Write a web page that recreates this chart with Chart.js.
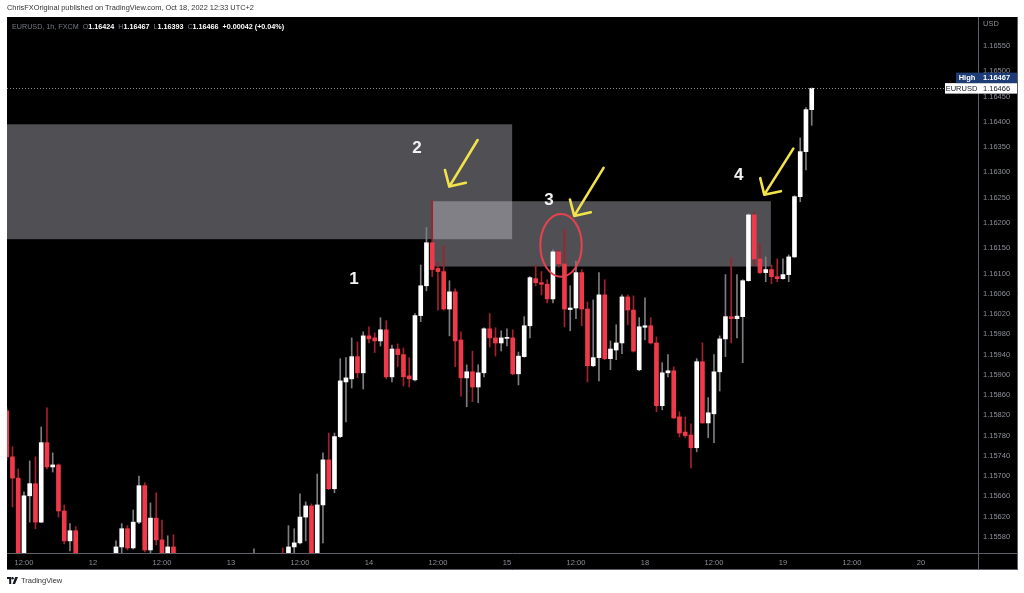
<!DOCTYPE html>
<html>
<head>
<meta charset="utf-8">
<title>EURUSD 1h</title>
<script src="https://cdn.jsdelivr.net/npm/chart.js@4.4.1/dist/chart.umd.min.js"></script>
<style>
  html, body { margin: 0; padding: 0; background: #ffffff; width: 1024px; height: 593px; overflow: hidden; }
  #wrap { position: relative; width: 1024px; height: 593px; font-family: "Liberation Sans", Arial, sans-serif; }
  #wrap canvas { position: absolute; left: 0; top: 0; }
  .pub { position: absolute; left: 7px; top: 3px; font-size: 7.4px; color: #333333; white-space: nowrap; z-index: 2; }
  .legend { position: absolute; left: 12px; top: 22px; font-size: 7.2px; color: #787b86; white-space: nowrap; z-index: 2; }
  .legend b { color: #ffffff; font-weight: bold; margin-right: 2px; }
  .foot { position: absolute; left: 7px; top: 576px; font-size: 7.5px; color: #333333; white-space: nowrap; z-index: 2; display: flex; align-items: center; }
  .foot svg { margin-right: 3px; }
</style>
</head>
<body>
<div id="wrap">
  <canvas id="c" width="1024" height="593"></canvas>
  <div class="pub">ChrisFXOriginal published on TradingView.com, Oct 18, 2022 12:33 UTC+2</div>
  <div class="legend">EURUSD, 1h, FXCM&nbsp; O<b>1.16424</b> H<b>1.16467</b> L<b>1.16393</b> C<b>1.16466</b> <b>+0.00042 (+0.04%)</b></div>
  <div class="foot">
    <svg width="11" height="7" viewBox="0 0 11 7"><path d="M0 0h4.2v7H2.2V2H0z" fill="#131722"/><circle cx="5.6" cy="1.2" r="1.2" fill="#131722"/><path d="M8.2 0h2.8L8 7H5.6z" fill="#131722"/></svg>TradingView
  </div>
</div>
<script>
// Hourly EURUSD bars, one slot per hour; null where the bar sits entirely below the visible range.
const opens = [
  1.15829,1.15738,1.15696,1.15542,1.15661,1.15685,1.15609,1.15766,1.15718,1.15722,
  1.15631,1.15572,1.15592,null,null,null,null,null,null,1.15542,
  1.15560,1.15596,1.15558,1.15609,1.15681,1.15554,1.15617,1.15574,1.15534,1.15560,
  null,null,null,null,null,null,null,null,null,null,
  null,null,null,1.15530,null,null,null,null,1.15540,1.15534,
  1.15560,1.15568,1.15619,1.15641,1.15542,1.15643,1.15732,1.15675,1.15778,1.15886,
  1.15892,1.15936,1.15904,1.15977,1.15973,1.15967,1.15989,1.15896,1.15951,1.15940,
  1.15898,1.15890,1.16017,1.16076,1.16161,1.16110,1.16104,1.16030,1.16064,1.15969,
  1.15894,1.15906,1.15876,1.15904,1.15991,1.15973,1.15963,1.15972,1.15973,1.15902,
  1.15936,1.15997,1.16090,1.16082,1.16079,1.16050,1.16143,1.16119,1.16029,1.16032,
  1.16102,1.16030,1.15918,1.15934,1.16058,1.15932,1.15949,1.15963,1.16054,1.16028,
  1.15910,1.15994,1.15997,1.15963,1.15839,1.15904,1.15908,1.15817,1.15787,1.15781,
  1.15756,1.15926,1.15805,1.15823,1.15906,1.15971,1.16015,1.16011,1.16015,1.16086,
  1.16216,1.16129,1.16102,1.16108,1.16094,1.16090,1.16098,1.16133,1.16252,1.16341,
  1.16424
];
const highs = [
  1.15835,1.15758,1.15714,1.15669,1.15730,1.15738,1.15797,1.15835,1.15746,1.15724,
  1.15643,1.15606,1.15600,null,null,null,null,null,null,1.15572,
  1.15606,1.15602,1.15633,1.15700,1.15687,1.15647,1.15667,1.15613,1.15582,1.15584,
  null,null,null,null,null,null,null,null,null,null,
  null,null,null,1.15556,null,null,null,null,1.15558,1.15602,
  1.15596,1.15665,1.15649,1.15645,1.15704,1.15746,1.15785,1.15785,1.15932,1.15934,
  1.15973,1.15965,1.15985,1.15995,1.15983,1.16013,1.16007,1.15959,1.15961,1.15953,
  1.15934,1.16021,1.16117,1.16191,1.16244,1.16123,1.16155,1.16086,1.16070,1.15985,
  1.15920,1.15947,1.15920,1.15993,1.16021,1.15993,1.15987,1.15991,1.15989,1.15945,
  1.16015,1.16094,1.16117,1.16104,1.16088,1.16147,1.16146,1.16187,1.16076,1.16125,
  1.16108,1.16044,1.16048,1.16102,1.16088,1.15967,1.15999,1.16058,1.16058,1.16056,
  1.16013,1.16052,1.16013,1.15975,1.15924,1.15940,1.15916,1.15827,1.15817,1.15803,
  1.15932,1.15963,1.15855,1.15940,1.15977,1.16098,1.16131,1.16098,1.16088,1.16218,
  1.16222,1.16161,1.16133,1.16117,1.16129,1.16129,1.16137,1.16254,1.16368,1.16428,
  1.16467
];
const lows = [
  1.15732,1.15639,1.15530,1.15532,1.15609,1.15596,1.15608,1.15714,1.15708,1.15619,
  1.15566,1.15552,1.15525,null,null,null,null,null,null,1.15538,
  1.15548,1.15554,1.15556,1.15606,1.15550,1.15548,1.15564,1.15534,1.15530,1.15530,
  null,null,null,null,null,null,null,null,null,null,
  null,null,null,1.15522,null,null,null,null,1.15522,1.15530,
  1.15544,1.15566,1.15572,1.15534,1.15538,1.15568,1.15673,1.15667,1.15776,1.15807,
  1.15874,1.15894,1.15872,1.15963,1.15944,1.15957,1.15892,1.15886,1.15916,1.15878,
  1.15876,1.15888,1.16005,1.16066,1.16094,1.16028,1.16028,1.15977,1.15916,1.15858,
  1.15837,1.15847,1.15845,1.15896,1.15955,1.15937,1.15947,1.15957,1.15900,1.15880,
  1.15935,1.15973,1.16076,1.16058,1.16042,1.16042,1.16113,1.15995,1.15987,1.16011,
  1.15997,1.15886,1.15916,1.15888,1.15930,1.15910,1.15930,1.15942,1.15999,1.15945,
  1.15908,1.15969,1.15961,1.15827,1.15831,1.15896,1.15813,1.15777,1.15776,1.15716,
  1.15748,1.15804,1.15776,1.15766,1.15868,1.15936,1.15963,1.15973,1.15924,1.16085,
  1.16117,1.16100,1.16084,1.16080,1.16084,1.16089,1.16084,1.16132,1.16242,1.16305,
  1.16393
];
const closes = [
  1.15738,1.15696,1.15542,1.15661,1.15685,1.15609,1.15766,1.15718,1.15722,1.15631,
  1.15572,1.15592,1.15534,null,null,null,null,null,null,1.15560,
  1.15596,1.15558,1.15609,1.15681,1.15554,1.15617,1.15574,1.15542,1.15560,1.15538,
  null,null,null,null,null,null,null,null,null,null,
  null,null,null,1.15540,null,null,null,null,1.15530,1.15560,
  1.15568,1.15619,1.15641,1.15542,1.15643,1.15732,1.15675,1.15778,1.15888,1.15894,
  1.15936,1.15904,1.15977,1.15971,1.15967,1.15989,1.15896,1.15951,1.15940,1.15896,
  1.15892,1.16017,1.16076,1.16161,1.16108,1.16104,1.16030,1.16064,1.15967,1.15894,
  1.15906,1.15876,1.15904,1.15991,1.15973,1.15963,1.15973,1.15974,1.15902,1.15937,
  1.15997,1.16092,1.16082,1.16079,1.16050,1.16143,1.16119,1.16030,1.16032,1.16102,
  1.16030,1.15918,1.15934,1.16058,1.15932,1.15951,1.15963,1.16054,1.16028,1.15947,
  1.15995,1.15997,1.15963,1.15839,1.15904,1.15908,1.15815,1.15785,1.15780,1.15756,
  1.15926,1.15805,1.15825,1.15906,1.15971,1.16015,1.16011,1.16016,1.16086,1.16216,
  1.16129,1.16102,1.16108,1.16094,1.16090,1.16098,1.16133,1.16252,1.16341,1.16424,
  1.16466
];

// Time axis: bar slot of each label and its text.
const timeTickSlots = [3, 15, 27, 39, 51, 63, 75, 87, 99, 111, 123, 135, 147, 159];
const timeTickText  = ['12:00','12','12:00','13','12:00','14','12:00','15','12:00','18','12:00','19','12:00','20'];

// Price axis labels.
const priceTicks = [1.1655, 1.1650, 1.1645, 1.1640, 1.1635, 1.1630, 1.1625, 1.1620, 1.1615, 1.1610,
  1.1606, 1.1602, 1.1598, 1.1594, 1.1590, 1.1586, 1.1582, 1.1578, 1.1574, 1.1570, 1.1566, 1.1562, 1.1558];

// Supply zones (bar slot range and price range).
const zoneStart  = [-10, 74];
const zoneEnd    = [87.9, 132.9];
const zoneTop    = [1.16395, 1.16243];
const zoneBottom = [1.16168, 1.16114];

// Hand-drawn notes: numbers, arrows (tail -> tip) and the circled rejection wick.
const noteText  = ['1', '2', '3', '4'];
const noteSlot  = [60.4, 71.35, 94.3, 127.3];
const notePrice = [1.16088, 1.16347, 1.16244, 1.16294];
const arrowTailSlot  = [81.9, 103.8, 136.8];
const arrowTailPrice = [1.16364, 1.16309, 1.16347];
const arrowTipSlot   = [76.97, 98.7, 131.75];
const arrowTipPrice  = [1.16272, 1.16214, 1.16256];
const ringSlots  = [92.8, 100.0];
const ringPrices = [1.16218, 1.16094];

const UP = '#ffffff', DOWN = '#f03a4b', UP_WICK = '#7e7e82', DOWN_WICK = '#a3202d';
const AXIS_FONT = { family: '"Liberation Sans", Arial, sans-serif', size: 7.5 };

const bodies = [], wicks = [];
opens.forEach((o, i) => {
  if (o === null) return;
  const up = closes[i] >= o;
  bodies.push({ x: i, y: [o, closes[i]], up });
  wicks.push({ x: i, y: [lows[i], highs[i]], up });
});

const lastClose = closes[closes.length - 1];
const lastHigh = highs[highs.length - 1];

const decor = {
  id: 'decor',
  beforeDraw(chart) {
    const ctx = chart.ctx;
    ctx.save();
    ctx.fillStyle = '#ffffff';
    ctx.fillRect(0, 0, chart.width, chart.height);
    ctx.fillStyle = '#000000';
    ctx.fillRect(7, 17, 1011, 553);
    ctx.restore();
  },
  beforeDatasetsDraw(chart) {
    const { ctx, chartArea: a, scales: { x, y } } = chart;
    ctx.save();
    ctx.beginPath();
    ctx.rect(a.left, a.top, a.right - a.left, a.bottom - a.top);
    ctx.clip();
    ctx.fillStyle = 'rgba(200,200,210,0.4)';
    for (let k = 0; k < zoneStart.length; k++) {
      const x0 = x.getPixelForValue(zoneStart[k]);
      const x1 = x.getPixelForValue(zoneEnd[k]);
      const y0 = y.getPixelForValue(zoneTop[k]);
      const y1 = y.getPixelForValue(zoneBottom[k]);
      ctx.fillRect(x0, y0, x1 - x0, y1 - y0);
    }
    ctx.restore();
  },
  afterDatasetsDraw(chart) {
    const { ctx, chartArea: a, scales: { x, y } } = chart;
    ctx.save();
    // last price line
    const yc = Math.round(y.getPixelForValue(lastClose)) + 0.5;
    ctx.strokeStyle = '#8a8d96';
    ctx.lineWidth = 1;
    ctx.setLineDash([1, 2]);
    ctx.beginPath();
    ctx.moveTo(a.left, yc);
    ctx.lineTo(a.right, yc);
    ctx.stroke();
    ctx.setLineDash([]);

    // circled wick
    const rx0 = x.getPixelForValue(ringSlots[0]), rx1 = x.getPixelForValue(ringSlots[1]);
    const ry0 = y.getPixelForValue(ringPrices[0]), ry1 = y.getPixelForValue(ringPrices[1]);
    ctx.strokeStyle = '#e8414f';
    ctx.lineWidth = 2;
    ctx.beginPath();
    ctx.ellipse((rx0 + rx1) / 2, (ry0 + ry1) / 2, (rx1 - rx0) / 2, (ry1 - ry0) / 2, 0, 0, Math.PI * 2);
    ctx.stroke();

    // arrows
    ctx.strokeStyle = '#f2e24b';
    ctx.lineWidth = 2.6;
    ctx.lineCap = 'round';
    ctx.lineJoin = 'round';
    for (let k = 0; k < arrowTailSlot.length; k++) {
      const tx = x.getPixelForValue(arrowTailSlot[k]), ty = y.getPixelForValue(arrowTailPrice[k]);
      const hx = x.getPixelForValue(arrowTipSlot[k]), hy = y.getPixelForValue(arrowTipPrice[k]);
      const ang = Math.atan2(ty - hy, tx - hx);
      const len = 17, spread = 46 * Math.PI / 180;
      ctx.beginPath();
      ctx.moveTo(tx, ty);
      ctx.lineTo(hx, hy);
      ctx.moveTo(hx + len * Math.cos(ang - spread), hy + len * Math.sin(ang - spread));
      ctx.lineTo(hx, hy);
      ctx.lineTo(hx + len * Math.cos(ang + spread), hy + len * Math.sin(ang + spread));
      ctx.stroke();
    }

    // numbers
    ctx.fillStyle = '#f2f2f2';
    ctx.font = 'bold 17px "Liberation Sans", Arial, sans-serif';
    ctx.textAlign = 'center';
    ctx.textBaseline = 'middle';
    for (let k = 0; k < noteText.length; k++) {
      ctx.fillText(noteText[k], x.getPixelForValue(noteSlot[k]), y.getPixelForValue(notePrice[k]));
    }
    ctx.restore();
  },
  afterDraw(chart) {
    const { ctx, chartArea: a, scales: { y } } = chart;
    ctx.save();
    // panel separators
    ctx.strokeStyle = '#5c5f68';
    ctx.lineWidth = 1;
    ctx.beginPath();
    ctx.moveTo(a.right + 0.5, 17); ctx.lineTo(a.right + 0.5, 570);
    ctx.moveTo(7, a.bottom + 0.5); ctx.lineTo(1018, a.bottom + 0.5);
    ctx.moveTo(7, 569.5); ctx.lineTo(1018, 569.5);
    ctx.moveTo(1017.5, 17); ctx.lineTo(1017.5, 570);
    ctx.stroke();

    // axis currency
    ctx.fillStyle = '#8c8f98';
    ctx.font = '7.5px "Liberation Sans", Arial, sans-serif';
    ctx.textAlign = 'left';
    ctx.textBaseline = 'middle';
    ctx.fillText('USD', 983, 24);

    // price tags
    const yc = y.getPixelForValue(lastClose);
    const h = 10.5;
    // symbol tag
    ctx.fillStyle = '#ffffff';
    ctx.fillRect(945, yc - h / 2, 33, h);
    ctx.fillRect(978, yc - h / 2, 39, h);
    ctx.fillStyle = '#131722';
    ctx.font = '7.5px "Liberation Sans", Arial, sans-serif';
    ctx.textAlign = 'center';
    ctx.fillText('EURUSD', 961.5, yc + 0.5);
    ctx.textAlign = 'left';
    ctx.fillText(lastClose.toFixed(5), 983, yc + 0.5);
    // high tag
    const yh = yc - h;
    ctx.fillStyle = '#1d3b74';
    ctx.fillRect(956, yh - h / 2, 22, h);
    ctx.fillRect(978, yh - h / 2, 39, h);
    ctx.fillStyle = '#ffffff';
    ctx.font = 'bold 7.5px "Liberation Sans", Arial, sans-serif';
    ctx.textAlign = 'center';
    ctx.fillText('High', 967, yh + 0.5);
    ctx.textAlign = 'left';
    ctx.fillText(lastHigh.toFixed(5), 983, yh + 0.5);
    ctx.restore();
  }
};

new Chart(document.getElementById('c'), {
  type: 'bar',
  data: {
    datasets: [
      {
        label: 'body',
        data: bodies,
        order: 0,
        grouped: false,
        barThickness: 4,
        minBarLength: 1,
        backgroundColor: (c) => (c.raw && c.raw.up ? UP : DOWN)
      },
      {
        label: 'wick',
        data: wicks,
        order: 1,
        grouped: false,
        barThickness: 1,
        minBarLength: 1,
        backgroundColor: (c) => (c.raw && c.raw.up ? UP_WICK : DOWN_WICK)
      }
    ]
  },
  options: {
    responsive: false,
    devicePixelRatio: 1,
    animation: false,
    events: [],
    layout: { padding: { left: 7, top: 17, right: 6, bottom: 23 } },
    plugins: { legend: { display: false }, tooltip: { enabled: false } },
    scales: {
      x: {
        type: 'linear',
        position: 'bottom',
        offset: false,
        min: 0.05,
        max: 168.92,
        grid: { display: false, drawTicks: false, offset: false },
        border: { display: false },
        afterBuildTicks: (s) => { s.ticks = timeTickSlots.map((v) => ({ value: v })); },
        afterFit: (s) => { s.height = 17; },
        ticks: {
          autoSkip: false,
          maxRotation: 0,
          padding: 5,
          color: '#8c8f98',
          font: AXIS_FONT,
          callback: (v) => timeTickText[timeTickSlots.indexOf(v)]
        }
      },
      y: {
        type: 'linear',
        position: 'right',
        min: 1.15548,
        max: 1.16607,
        grid: { display: false, drawTicks: false },
        border: { display: false },
        afterBuildTicks: (s) => { s.ticks = priceTicks.map((v) => ({ value: v })); },
        afterFit: (s) => { s.width = 40; },
        ticks: {
          autoSkip: false,
          padding: 5,
          color: '#8c8f98',
          font: AXIS_FONT,
          callback: (v) => Number(v).toFixed(5)
        }
      }
    }
  },
  plugins: [decor]
});
</script>
</body>
</html>
